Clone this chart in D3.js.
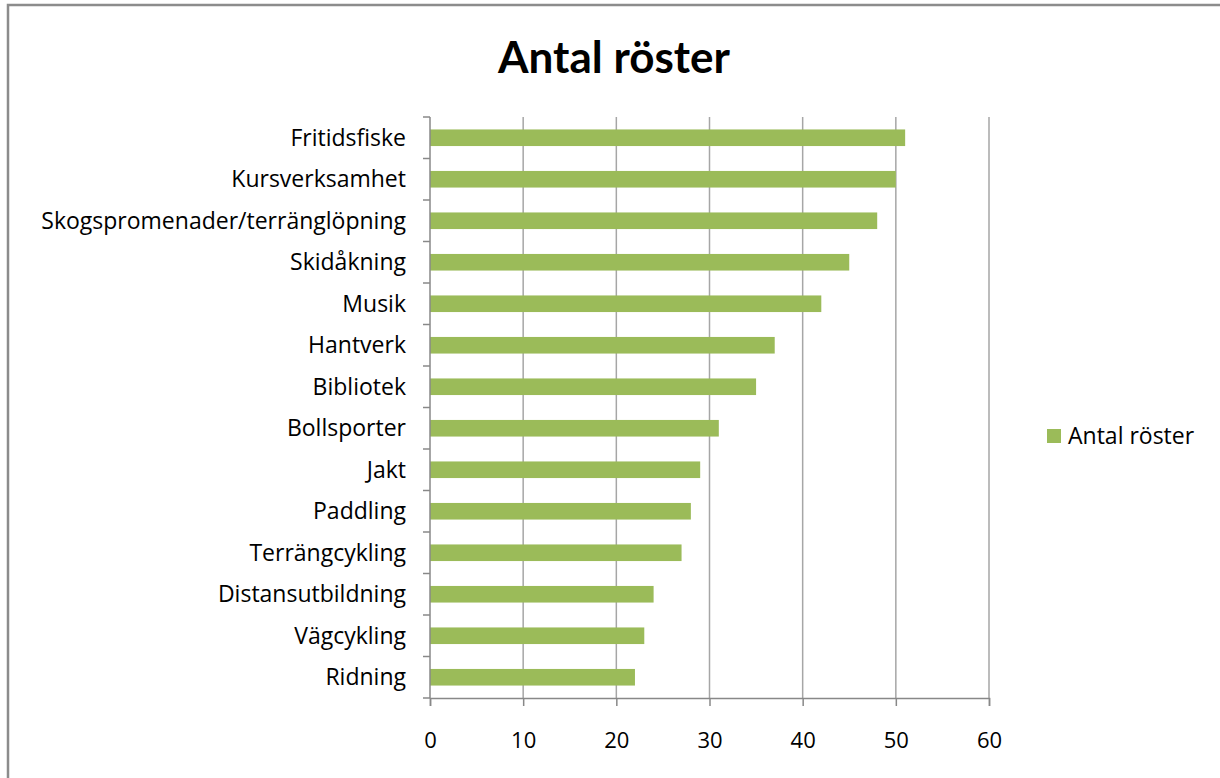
<!DOCTYPE html>
<html>
<head>
<meta charset="utf-8">
<script src="https://cdn.jsdelivr.net/npm/d3@7"></script>
<style>
  body { margin: 0; background: #fff; }
  text { font-family: "Open Sans", Lato, sans-serif; fill: #000; }
</style>
</head>
<body>
<div id="chart"></div>
<script>
// Data
var categories = ["Fritidsfiske", "Kursverksamhet", "Skogspromenader/terränglöpning",
  "Skidåkning", "Musik", "Hantverk", "Bibliotek", "Bollsporter", "Jakt",
  "Paddling", "Terrängcykling", "Distansutbildning", "Vägcykling", "Ridning"];
var votes = [51, 50, 48, 45, 42, 37, 35, 31, 29, 28, 27, 24, 23, 22];
var xTicks = [0, 10, 20, 30, 40, 50, 60];
var chartTitle = "Antal röster";
var seriesName = "Antal röster";

var svgWidth = 1220;
var svgHeight = 778;

var margin = {
  top: 117,
  right: 231,
  bottom: 80,
  left: 430
};

var chartWidth = svgWidth - margin.left - margin.right;
var chartHeight = svgHeight - margin.top - margin.bottom;

var svg = d3.select("#chart")
  .append("svg")
  .attr("width", svgWidth)
  .attr("height", svgHeight);

// outer frame (only top and left edges visible in the reference)
svg.append("rect")
  .attr("x", 8)
  .attr("y", 5)
  .attr("width", svgWidth + 20)
  .attr("height", svgHeight + 20)
  .attr("fill", "#fff")
  .attr("stroke", "#8c8c8c")
  .attr("stroke-width", 2.5);

var chartGroup = svg.append("g")
  .attr("transform", `translate(${margin.left}, ${margin.top})`);

var xScale = d3.scaleLinear()
  .domain([0, 60])
  .range([0, chartWidth]);

var yScale = d3.scaleBand()
  .domain(categories)
  .range([0, chartHeight])
  .paddingInner(0.6)
  .paddingOuter(0.3);

// vertical gridlines
chartGroup.append("g")
  .selectAll("line")
  .data(xTicks.slice(1))
  .join("line")
  .attr("x1", d => xScale(d))
  .attr("x2", d => xScale(d))
  .attr("y1", 0)
  .attr("y2", chartHeight)
  .attr("stroke", "#a6a6a6")
  .attr("stroke-width", 1.5);

// bars
chartGroup.selectAll("rect.bar")
  .data(votes)
  .join("rect")
  .attr("class", "bar")
  .attr("x", 0)
  .attr("y", (d, i) => yScale(categories[i]))
  .attr("width", d => xScale(d))
  .attr("height", yScale.bandwidth())
  .attr("fill", "#9bbb59");

// x axis
var bottomAxis = d3.axisBottom(xScale)
  .tickValues(xTicks)
  .tickSize(8)
  .tickPadding(26);

var xAxis = chartGroup.append("g")
  .attr("transform", `translate(0, ${chartHeight})`)
  .call(bottomAxis);

xAxis.select(".domain").attr("stroke", "#888").attr("stroke-width", 1.5);
xAxis.selectAll(".tick line").attr("stroke", "#888").attr("stroke-width", 1.5);
xAxis.selectAll(".tick text")
  .style("font-size", "22px")
  .style("font-family", "'Open Sans', sans-serif")
  .attr("fill", "#000");

// y axis: ticks sit on the band boundaries, labels on band centres
var yAxisGroup = chartGroup.append("g");

yAxisGroup.append("line")
  .attr("x1", 0)
  .attr("x2", 0)
  .attr("y1", 0)
  .attr("y2", chartHeight)
  .attr("stroke", "#888")
  .attr("stroke-width", 1.5);

yAxisGroup.selectAll("line.ytick")
  .data(d3.range(categories.length + 1))
  .join("line")
  .attr("class", "ytick")
  .attr("x1", -7)
  .attr("x2", 0)
  .attr("y1", i => i * chartHeight / categories.length)
  .attr("y2", i => i * chartHeight / categories.length)
  .attr("stroke", "#888")
  .attr("stroke-width", 1.5);

yAxisGroup.selectAll("text")
  .data(categories)
  .join("text")
  .attr("x", -24)
  .attr("y", d => yScale(d) + yScale.bandwidth() / 2)
  .attr("dy", "0.35em")
  .attr("text-anchor", "end")
  .style("font-size", "23px")
  .text(d => d);

// title
svg.append("text")
  .attr("x", 614)
  .attr("y", 73)
  .attr("text-anchor", "middle")
  .style("font-family", "Lato, sans-serif")
  .style("font-size", "44px")
  .style("font-weight", "bold")
  .text(chartTitle);

// legend
var legend = svg.append("g")
  .attr("transform", "translate(1047, 429)");

legend.append("rect")
  .attr("width", 14)
  .attr("height", 14)
  .attr("fill", "#9bbb59");

legend.append("text")
  .attr("x", 21)
  .attr("y", 7)
  .attr("dy", "0.35em")
  .style("font-size", "23px")
  .text(seriesName);
</script>
</body>
</html>
